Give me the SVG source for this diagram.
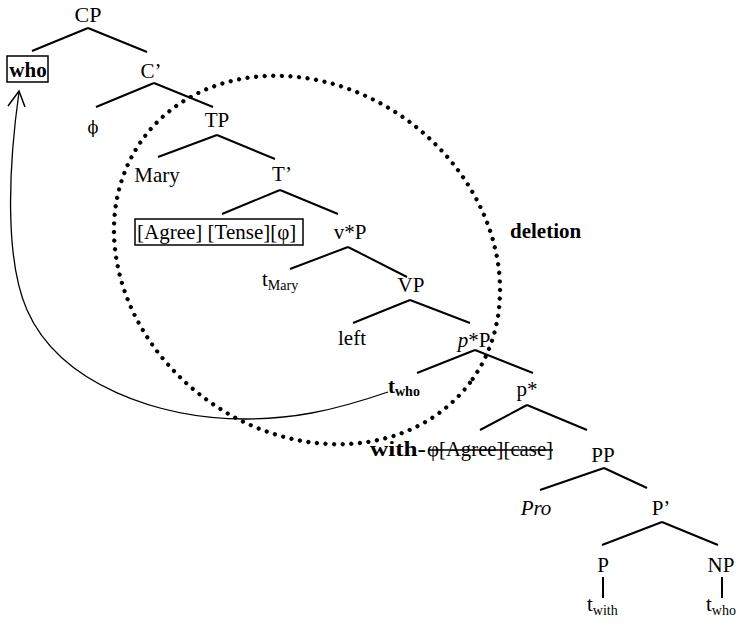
<svg xmlns="http://www.w3.org/2000/svg" width="741" height="626" viewBox="0 0 741 626">
  <style>
    text { font-family: "Liberation Serif", "Times New Roman", serif; font-size: 21px; fill: #000; }
    .c { text-anchor: middle; }
    .b { font-weight: bold; }
    .i { font-style: italic; }
    .sub { font-size: 14px; }
    .edge { stroke: #000; stroke-width: 2; fill: none; }
    .box { stroke: #000; stroke-width: 1.5; fill: none; }
  </style>
  <rect width="741" height="626" fill="#fff"/>

  <!-- tree branches -->
  <g id="connectors">
    <path class="edge" d="M88,28 L32,51 M88,28 L147,52"/>
    <path class="edge" d="M154,83 L96,107 M154,83 L213,107"/>
    <path class="edge" d="M217,135 L158,157 M217,135 L275,159"/>
    <path class="edge" d="M280,190 L222,214 M280,190 L338,214"/>
    <path class="edge" d="M348,247 L290,269 M348,247 L407,277"/>
    <path class="edge" d="M410,300 L353,323 M410,300 L470,323"/>
    <path class="edge" d="M475,350 L417,373 M475,350 L533,373"/>
    <path class="edge" d="M527,405 L480,430 M527,405 L587,430"/>
    <path class="edge" d="M604,468 L540,490 M604,468 L647,488"/>
    <path class="edge" d="M662,522 L602,545 M662,522 L718,545"/>
    <path class="edge" d="M603,577 L603,598"/>
    <path class="edge" d="M722,577 L722,598"/>
    <!-- movement arrow -->
    <path d="M388,392 C330,412 290,419 245,419 C160,419 60,385 27,310 C5,260 8,170 19,92" stroke="#000" stroke-width="1.3" fill="none"/>
    <path d="M8,106 L19,91 L25,107" stroke="#000" stroke-width="1.5" fill="none"/>
  </g>

  <!-- deletion domain -->
  <ellipse cx="307" cy="260" rx="204" ry="172" transform="rotate(37 307 260)" fill="none" stroke="#000" stroke-width="4.2" stroke-linecap="round" stroke-dasharray="0 8.6"/>

  <g id="CP"><text class="c" x="88" y="22" style="font-size:22px">CP</text></g>
  <g id="who"><rect class="box" x="7" y="56" width="41" height="26"/><text class="c b" x="28" y="77">who</text></g>
  <g id="Cbar"><text class="c" x="151" y="78">C’</text></g>
  <g id="phi"><text class="c" x="93" y="133" style="font-family:'DejaVu Serif',serif;font-size:16px">ϕ</text></g>
  <g id="TP"><text class="c" x="217" y="127">TP</text></g>
  <g id="Mary"><text class="c" x="157" y="182">Mary</text></g>
  <g id="Tbar"><text class="c" x="282" y="181">T’</text></g>
  <g id="features"><rect class="box" x="135" y="219" width="168" height="26"/><text x="137" y="239">[Agree] [Tense][φ]</text></g>
  <g id="vP"><text class="c" x="350" y="239">v*P</text></g>
  <g id="tMary"><text x="262" y="286">t<tspan class="sub" dy="4">Mary</tspan></text></g>
  <g id="VP"><text class="c" x="411" y="292">VP</text></g>
  <g id="left"><text class="c" x="352" y="345">left</text></g>
  <g id="pP"><text class="c" x="474" y="347"><tspan class="i">p</tspan>*P</text></g>
  <g id="twho"><text class="b" x="388" y="393">t<tspan class="sub" dy="3">who</tspan></text></g>
  <g id="pstar"><text class="c" x="527" y="396">p*</text></g>
  <g id="with">
    <text class="b" x="370" y="456" textLength="56" lengthAdjust="spacingAndGlyphs">with-</text>
    <text x="427" y="456" textLength="126" lengthAdjust="spacingAndGlyphs">φ[Agree][case]</text>
    <line x1="428" y1="450" x2="553" y2="450" stroke="#000" stroke-width="1.6"/>
  </g>
  <g id="PP"><text class="c" x="603" y="462">PP</text></g>
  <g id="Pro"><text class="c i" x="536" y="515">Pro</text></g>
  <g id="Pbar"><text class="c" x="661" y="515">P’</text></g>
  <g id="P"><text class="c" x="603" y="572">P</text></g>
  <g id="NP"><text class="c" x="721" y="572">NP</text></g>
  <g id="twith"><text x="587" y="611">t<tspan class="sub" dy="4">with</tspan></text></g>
  <g id="twho2"><text x="706" y="611">t<tspan class="sub" dy="4">who</tspan></text></g>
  <g id="deletion"><text class="b" x="510" y="238">deletion</text></g>
</svg>
